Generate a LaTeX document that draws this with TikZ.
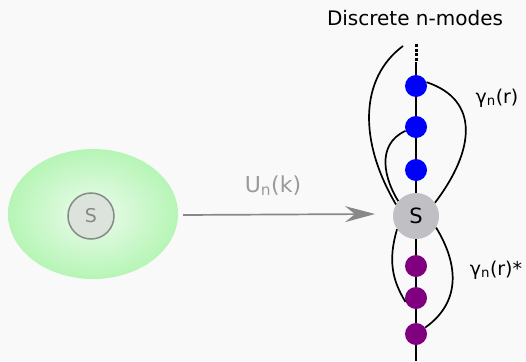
\documentclass[tikz,border=0pt]{standalone}
\usepackage{fontspec}
\setmainfont{DejaVu Sans}
\usetikzlibrary{arrows.meta}
\definecolor{bg}{HTML}{F9F9F9}
\definecolor{greenedge}{HTML}{B6F5B6}
\definecolor{greencenter}{HTML}{EEFBEE}
\definecolor{smallfill}{HTML}{DCE2DC}
\definecolor{smalldraw}{HTML}{858C85}
\definecolor{sgray}{HTML}{C0C0C4}
\definecolor{arrowgray}{HTML}{888888}
\definecolor{labelgray}{HTML}{9A9A9A}
\definecolor{modepurple}{HTML}{800080}
\tikzset{
  bluedot/.style={circle,fill=blue,minimum size=22pt,inner sep=0pt},
  purpledot/.style={circle,fill=modepurple,minimum size=22pt,inner sep=0pt},
  bigS/.style={circle,fill=sgray,minimum size=46pt,inner sep=0pt,font=\fontsize{21}{24}\selectfont},
  curve/.style={draw=black,line width=1.7pt},
  lbl/.style={font=\fontsize{19}{22}\selectfont,inner sep=0pt}
}
\begin{document}
\begin{tikzpicture}[x=1pt,y=-1pt]
\fill[bg] (0,0) rectangle (526,361);
\useasboundingbox (0,0) rectangle (526,361);
% green ellipse
\shade[inner color=greencenter,outer color=greenedge] (93,214) ellipse [x radius=85,y radius=65];
\node[circle,fill=smallfill,draw=smalldraw,line width=1.5pt,minimum size=46pt,inner sep=0pt,text=arrowgray,font=\fontsize{19}{22}\selectfont] (s0) at (91,216) {S};
% vertical line
\coordinate (top) at (416,44);
\coordinate (topsolid) at (416,62);
\coordinate (bot) at (416,361);
\draw[black,line width=3pt,dash pattern=on 3pt off 1.5pt] (top) -- (topsolid);
\draw[black,line width=1.7pt] (topsolid) -- (bot);
% nodes
\node[bluedot] (b1) at (416,86) {};
\node[bluedot] (b2) at (416,127) {};
\node[bluedot] (b3) at (416,170) {};
\node[bigS] (S) at (416,216) {S};
\node[purpledot] (p1) at (416,266) {};
\node[purpledot] (p2) at (416,298) {};
\node[purpledot] (p3) at (416,334) {};
% arrow
\draw[arrowgray,line width=1.7pt,-{Stealth[length=30pt,width=16pt,inset=10pt]}] (183,215) -- (375,214) coordinate (arrend);
\node[lbl,font=\fontsize{22}{26}\selectfont,text=labelgray] (U) at (273,186) {U\textsubscript{n}(k)};
% curves
\coordinate (c1top) at (403,46);
\draw[curve] (c1top) .. controls (360,78) and (358,140) .. (S.150);
\draw[curve] (b2.200) .. controls (375,145) and (385,180) .. (S.140);
\draw[curve] (b1.20) .. controls (480,100) and (475,150) .. (S.35);
\draw[curve] (S.215) .. controls (388,260) and (392,280) .. (p2.200);
\draw[curve] (S.330) .. controls (456,260) and (464,300) .. (p3.35);
% labels
\node[lbl,font=\fontsize{20}{24}\selectfont] (title) at (415,18) {Discrete n-modes};
\node[lbl] (g1) at (497,98) {γ\textsubscript{n}(r)};
\node[lbl] (g2) at (496,270) {γ\textsubscript{n}(r)*};
\end{tikzpicture}
\end{document}
